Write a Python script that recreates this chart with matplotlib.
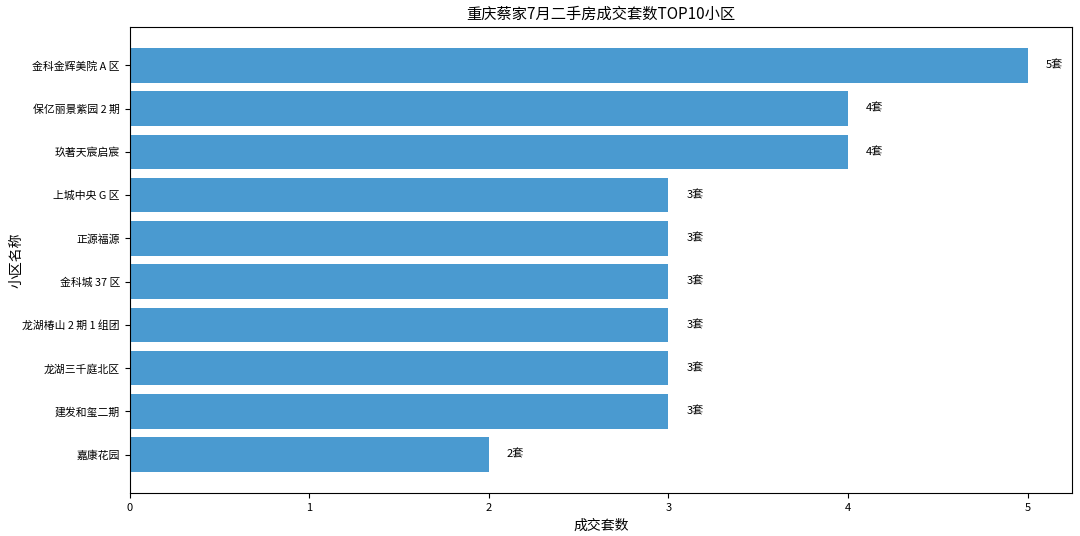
import matplotlib

matplotlib.use("Agg")
import matplotlib.pyplot as plt

plt.rcParams["font.family"] = ["Noto Sans CJK SC", "DejaVu Sans"]

communities = [
    "金科金辉美院 A 区",
    "保亿丽景紫园 2 期",
    "玖著天宸启宸",
    "上城中央 G 区",
    "正源福源",
    "金科城 37 区",
    "龙湖椿山 2 期 1 组团",
    "龙湖三千庭北区",
    "建发和玺二期",
    "嘉康花园",
]
deals = [5, 4, 4, 3, 3, 3, 3, 3, 3, 2]

fig, ax = plt.subplots(figsize=(10.8, 5.36), dpi=100)
fig.subplots_adjust(left=0.12, right=0.993, top=0.95, bottom=0.08)

ypos = list(range(len(communities)))
ax.barh(ypos, deals, height=0.8, color="#4a9ad0")
ax.set_yticks(ypos)
ax.set_yticklabels(communities, fontsize=7.8)
ax.invert_yaxis()
ax.tick_params(axis="x", labelsize=8)

for y, v in zip(ypos, deals):
    ax.text(v + 0.1, y, f"{v}套", va="center", ha="left", fontsize=8)

ax.set_title("重庆蔡家7月二手房成交套数TOP10小区", fontsize=11)
ax.set_xlabel("成交套数", fontsize=10)
ax.set_ylabel("小区名称", fontsize=10)
ax.yaxis.set_label_coords(-0.113, 0.5)

fig.savefig("out.png", dpi=100)
